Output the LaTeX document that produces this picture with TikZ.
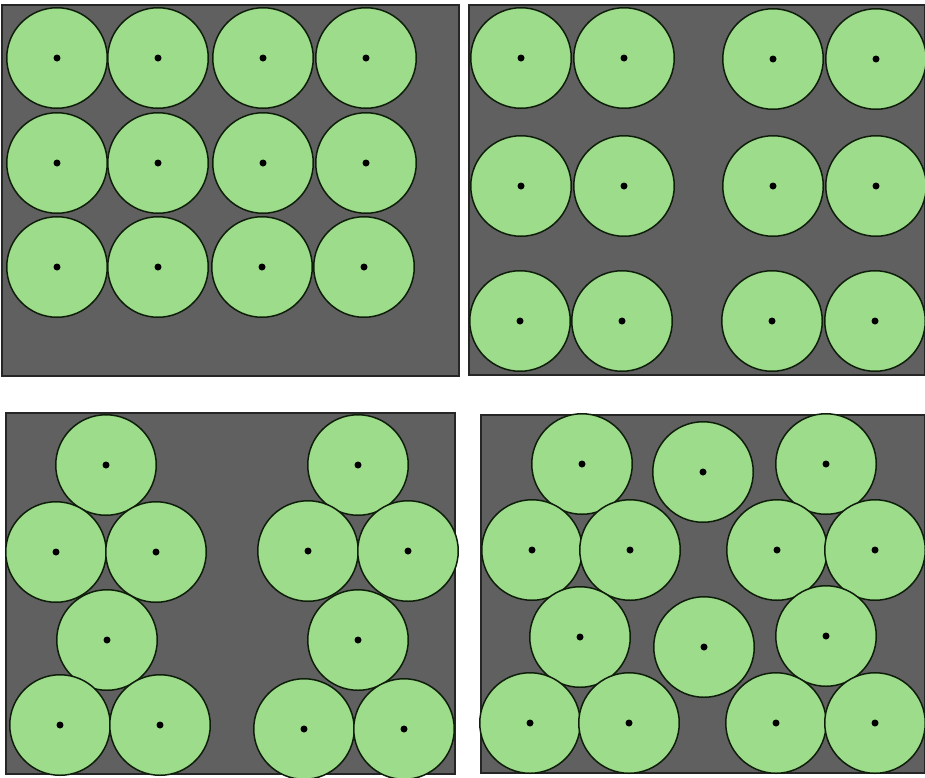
\documentclass[tikz,border=0pt]{standalone}
\definecolor{panelgray}{RGB}{96,96,96}
\definecolor{discgreen}{RGB}{157,220,138}
\definecolor{rimdark}{RGB}{15,30,10}
\tikzset{
  panel/.style={fill=panelgray,draw=black!85,line width=1.1pt},
  disc/.style={circle,draw=rimdark,fill=discgreen,line width=1.5pt,minimum size=100.5pt,inner sep=0pt},
  centredot/.style={circle,fill=black,minimum size=7pt,inner sep=0pt}
}
\begin{document}
\begin{tikzpicture}[x=1pt,y=-1pt]
\useasboundingbox (0,0) rectangle (925,777);
% panels
\draw[panel] (2,5) rectangle (459,376);
\draw[panel] (469,5) rectangle (924.4,375);
\draw[panel] (6,413) rectangle (455,774);
\draw[panel] (481,415) rectangle (924.4,773);
% panel 1
\foreach \x/\y [count=\i] in {57/58,158/58,263/58,366/58,
  57/163,158/163,263/163,366/163,
  57/267,158/267,262/267,364/267}
  {\node[disc] (a\i) at (\x,\y) {}; \node[centredot] (a\i d) at (a\i.center) {};}
% panel 2
\foreach \x/\y [count=\i] in {521/58,624/58,773/59,876/59,
  521/186,624/186,773/186,876/186,
  520/321,622/321,772/321,875/321}
  {\node[disc] (b\i) at (\x,\y) {}; \node[centredot] (b\i d) at (b\i.center) {};}
% panel 3
\foreach \x/\y [count=\i] in {106/465,358/465,
  56/552,156/552,308/551,408/551,
  107/640,358/640,
  60/725,160/725,304/729,404/729}
  {\node[disc] (c\i) at (\x,\y) {}; \node[centredot] (c\i d) at (c\i.center) {};}
% panel 4
\foreach \x/\y [count=\i] in {582/464,703/472,826/464,
  532/550,630/550,777/550,875/550,
  580/637,704/647,826/636,
  530/723,629/723,776/723,875/723}
  {\node[disc] (d\i) at (\x,\y) {}; \node[centredot] (d\i d) at (d\i.center) {};}
\end{tikzpicture}
\end{document}
